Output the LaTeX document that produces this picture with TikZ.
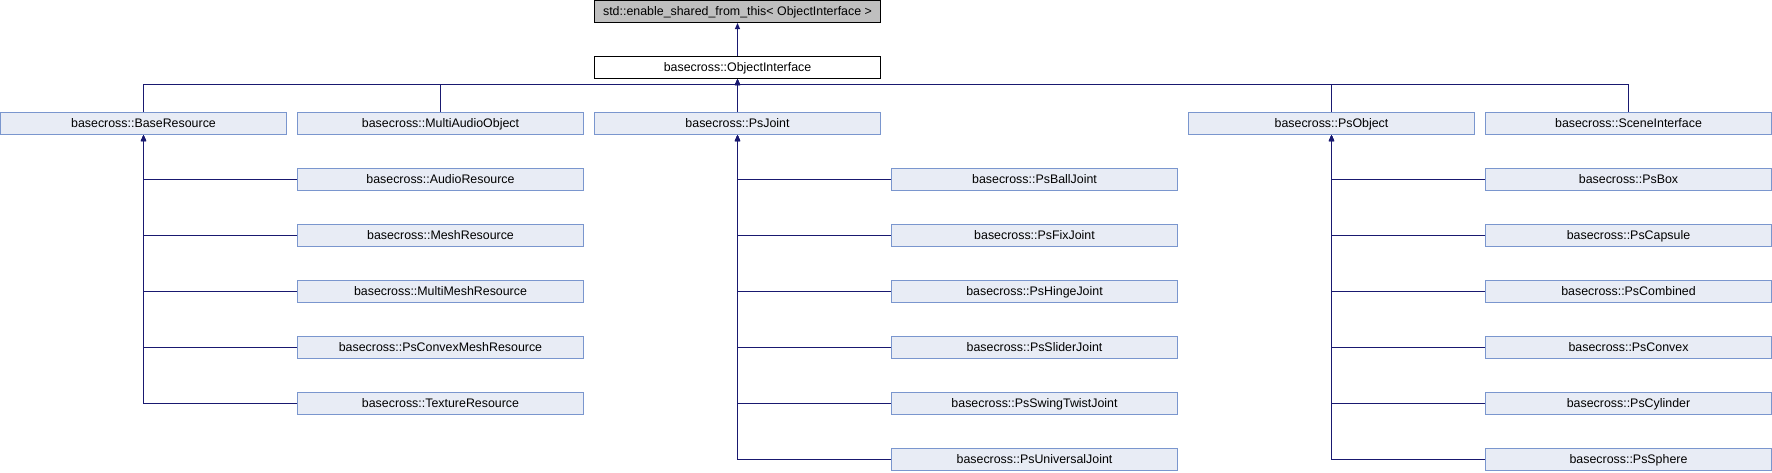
\documentclass[tikz,border=0pt]{standalone}
\usepackage{fontspec}
\setmainfont{Liberation Sans}
\usetikzlibrary{arrows.meta}

\definecolor{edgeblue}{RGB}{25,25,112}
\definecolor{nodefill}{RGB}{232,236,245}
\definecolor{nodeline}{RGB}{122,150,206}
\definecolor{rootfill}{RGB}{191,191,191}

\tikzset{
	classpicture/.style = {
		node distance = 56pt,
		font = \fontsize{12.4}{14}\selectfont,
		arrow/.style = {
			draw = edgeblue,
			line width = 1pt,
			-{Triangle[length=6pt, width=5pt]},
		}
	},
	classnode/.style = {
		rectangle,
		draw = nodeline,
		fill = nodefill,
		line width = 1pt,
		inner sep = 0pt,
		text height = 9.5pt,
		text depth = 1.5pt,
		minimum width = 286pt,
		minimum height = 22pt
	},
	rootnode/.style = {
		classnode,
		draw = black,
		fill = rootfill
	},
	plainnode/.style = {
		draw = black,
		fill = white
	}
}

\begin{document}
\begin{tikzpicture}[classpicture]
	\useasboundingbox (0,0) rectangle (1772pt,-472pt);

	\node[rootnode] (std) at (737.5pt,-11.5pt) {std::enable\_shared\_from\_this< ObjectInterface >};
	\node[classnode, plainnode, below of = std] (OI) {basecross::ObjectInterface};
	\coordinate[below of = OI, node distance = 17pt] (bus);

	\node[classnode, below of = OI] (PJ) {basecross::PsJoint};
	\node[classnode, left of = PJ, node distance = 297pt] (MAO) {basecross::MultiAudioObject};
	\node[classnode, left of = MAO, node distance = 297pt] (BR) {basecross::BaseResource};
	\node[classnode, right of = PJ, node distance = 594pt] (PO) {basecross::PsObject};
	\node[classnode, right of = PO, node distance = 297pt] (SI) {basecross::SceneInterface};

	% children of BaseResource
	\node[classnode, below of = MAO] (AR) {basecross::AudioResource};
	\node[classnode, below of = AR] (MR) {basecross::MeshResource};
	\node[classnode, below of = MR] (MMR) {basecross::MultiMeshResource};
	\node[classnode, below of = MMR] (PCMR) {basecross::PsConvexMeshResource};
	\node[classnode, below of = PCMR] (TR) {basecross::TextureResource};

	% children of PsJoint
	\node[classnode, below of = PJ, xshift = 297pt] (PBJ) {basecross::PsBallJoint};
	\node[classnode, below of = PBJ] (PFJ) {basecross::PsFixJoint};
	\node[classnode, below of = PFJ] (PHJ) {basecross::PsHingeJoint};
	\node[classnode, below of = PHJ] (PSJ) {basecross::PsSliderJoint};
	\node[classnode, below of = PSJ] (PSTJ) {basecross::PsSwingTwistJoint};
	\node[classnode, below of = PSTJ] (PUJ) {basecross::PsUniversalJoint};

	% children of PsObject
	\node[classnode, below of = SI] (PB) {basecross::PsBox};
	\node[classnode, below of = PB] (PCa) {basecross::PsCapsule};
	\node[classnode, below of = PCa] (PCo) {basecross::PsCombined};
	\node[classnode, below of = PCo] (PCv) {basecross::PsConvex};
	\node[classnode, below of = PCv] (PCy) {basecross::PsCylinder};
	\node[classnode, below of = PCy] (PS) {basecross::PsSphere};

	\begin{scope}[every path/.style = arrow]
		\path (OI.north) to (std.south);

		\path (BR.north) |- (bus) -| (OI.south);
		\path (MAO.north) |- (bus) -| (OI.south);
		\path (PJ.north) to (OI.south);
		\path (PO.north) |- (bus) -| (OI.south);
		\path (SI.north) |- (bus) -| (OI.south);

		\path (AR.west) -| (BR.south);
		\path (MR.west) -| (BR.south);
		\path (MMR.west) -| (BR.south);
		\path (PCMR.west) -| (BR.south);
		\path (TR.west) -| (BR.south);

		\path (PBJ.west) -| (PJ.south);
		\path (PFJ.west) -| (PJ.south);
		\path (PHJ.west) -| (PJ.south);
		\path (PSJ.west) -| (PJ.south);
		\path (PSTJ.west) -| (PJ.south);
		\path (PUJ.west) -| (PJ.south);

		\path (PB.west) -| (PO.south);
		\path (PCa.west) -| (PO.south);
		\path (PCo.west) -| (PO.south);
		\path (PCv.west) -| (PO.south);
		\path (PCy.west) -| (PO.south);
		\path (PS.west) -| (PO.south);
	\end{scope}
\end{tikzpicture}
\end{document}
